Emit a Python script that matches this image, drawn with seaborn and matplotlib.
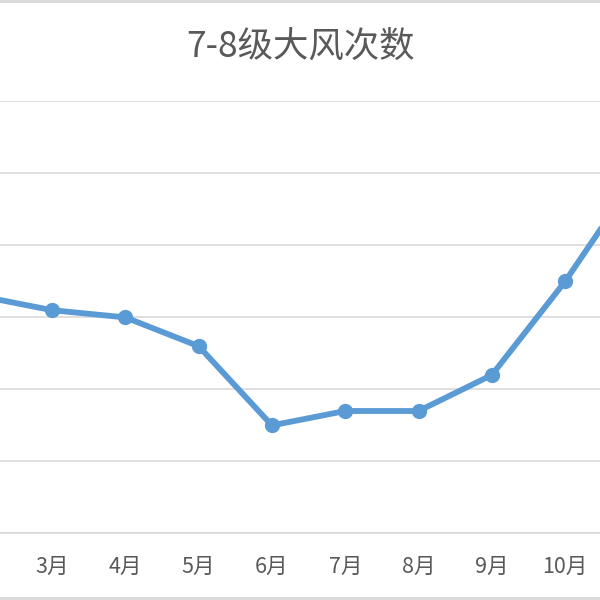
import matplotlib
matplotlib.use('Agg')
import matplotlib.pyplot as plt
from matplotlib.lines import Line2D
import seaborn as sns
import pandas as pd

# data (one gridline = 1 unit)
months = ["2月", "3月", "4月", "5月", "6月", "7月", "8月", "9月", "10月", "11月"]
counts = [3.3, 3.1, 3.0, 2.6, 1.5, 1.7, 1.7, 2.2, 3.5, 5.0]
title = "7-8级大风次数"

df = pd.DataFrame({"pos": range(len(months)), "count": counts})

sns.set_theme(style="white")
plt.rcParams['font.family'] = ['Noto Sans CJK SC', 'DejaVu Sans']

fig = plt.figure(figsize=(6, 6), dpi=100)
ax = fig.add_axes([0, 0.111, 1, 0.72])

sns.lineplot(data=df, x="pos", y="count", ax=ax, color="#5b9bd5",
             linewidth=4.2, marker="o", markersize=11, markeredgewidth=0,
             zorder=3, clip_on=True)

ax.set_yticks(range(0, 7))
ax.yaxis.grid(True, color="#d9d9d9", linewidth=1.2)
ax.set_yticklabels([])
ax.tick_params(axis="y", length=0)
ax.set_xticks(df["pos"])
ax.set_xticklabels(months, fontsize=15.5, color="#595959")
ax.tick_params(axis="x", length=0, pad=16)
# the picture is a crop: 2月 and 11月 fall just outside
ax.set_xlim(0.29, 0.29 + 600 / 73.3)
ax.set_ylim(0, 6)
ax.set_xlabel("")
ax.set_ylabel("")
for s in ["top", "left", "right"]:
    ax.spines[s].set_visible(False)
ax.spines["bottom"].set_color("#d9d9d9")
ax.spines["bottom"].set_linewidth(1.2)

fig.text(0.5, 0.922, title, ha="center", va="center", fontsize=25.5, color="#595959")

# chart area border (only top/bottom visible in the crop)
fig.add_artist(Line2D([0, 1], [0.998, 0.998], color="#d9d9d9", linewidth=2))
fig.add_artist(Line2D([0, 1], [0.004, 0.004], color="#d9d9d9", linewidth=2))

plt.savefig("out.png", dpi=100)
plt.close()
